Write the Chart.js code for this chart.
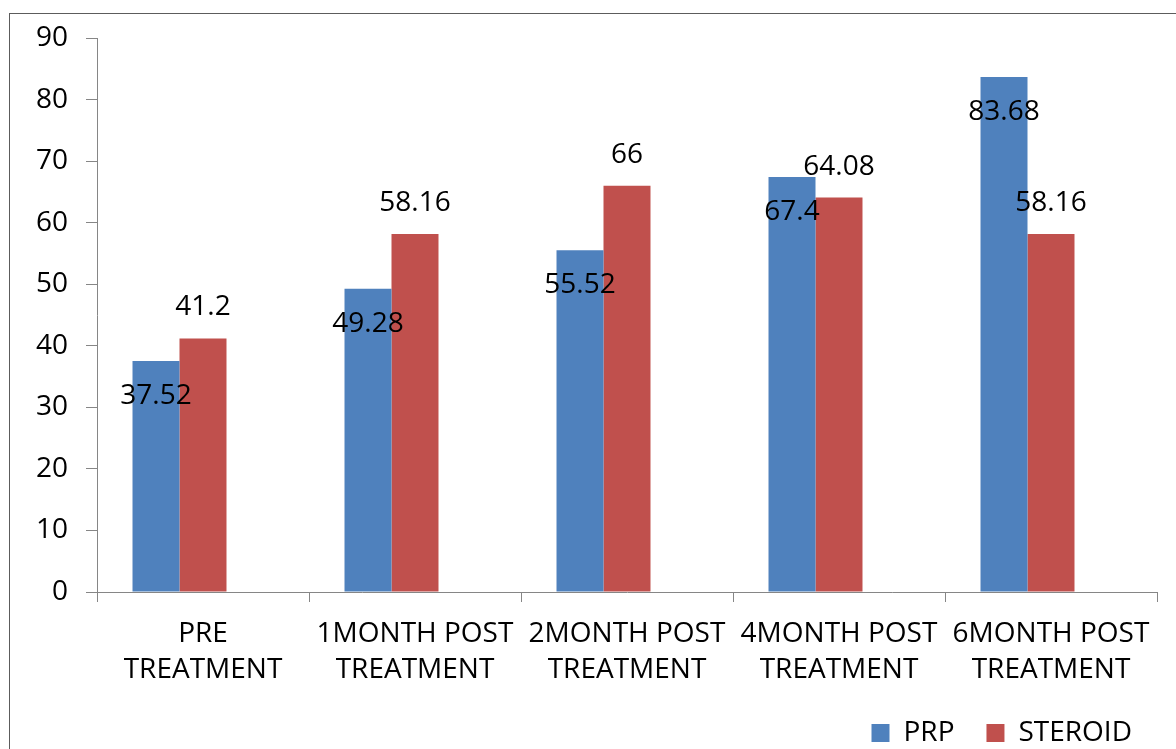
<!DOCTYPE html>
<html>
<head>
<meta charset="utf-8">
<script src="https://cdn.jsdelivr.net/npm/chart.js@4/dist/chart.umd.min.js"></script>
<style>
  html, body { margin: 0; padding: 0; background: #fff; }
  canvas { display: block; }
</style>
</head>
<body>
<canvas id="c" width="1176" height="749"></canvas>
<script>
// Visit labels (two lines each) and mean scores per group
const categories = [
  ['PRE', 'TREATMENT'],
  ['1MONTH POST', 'TREATMENT'],
  ['2MONTH POST', 'TREATMENT'],
  ['4MONTH POST', 'TREATMENT'],
  ['6MONTH POST', 'TREATMENT']
];
const prp = [37.52, 49.28, 55.52, 67.4, 83.68];
const steroid = [41.2, 58.16, 66, 64.08, 58.16];
// Third, empty series slot kept in each group
const spacer = [null, null, null, null, null];
const yTicks = [0, 10, 20, 30, 40, 50, 60, 70, 80, 90];

const FONT = '"Open Sans", "Liberation Sans", sans-serif';
const FONT_SIZE = 28;
const AXIS_GREY = '#868686';
const TEXT = '#000000';

// Value labels: PRP labels sit just inside the bar top, STEROID labels just above it
const labelShift = [35, -31, 0];

const valueLabels = {
  id: 'valueLabels',
  afterDatasetsDraw(chart) {
    const ctx = chart.ctx;
    ctx.save();
    ctx.font = FONT_SIZE + 'px ' + FONT;
    ctx.fillStyle = TEXT;
    ctx.textAlign = 'center';
    ctx.textBaseline = 'middle';
    chart.data.datasets.forEach((ds, di) => {
      const meta = chart.getDatasetMeta(di);
      meta.data.forEach((bar, i) => {
        const v = ds.data[i];
        if (v === null || v === undefined) return;
        ctx.fillText(String(v), bar.x, bar.y + labelShift[di]);
      });
    });
    ctx.restore();
  }
};

// Frame drawn around the figure
const frame = {
  id: 'frame',
  beforeDraw(chart) {
    const ctx = chart.ctx;
    ctx.save();
    ctx.fillStyle = '#ffffff';
    ctx.fillRect(0, 0, chart.width, chart.height);
    ctx.strokeStyle = '#5c5c5c';
    ctx.lineWidth = 1;
    ctx.strokeRect(9.5, 13.5, chart.width + 20, chart.height + 20);
    ctx.restore();
  }
};

// Legend sits in the lower right corner: widen its box upward so the row fits
const legendPlace = {
  id: 'legendPlace',
  afterLayout(chart) {
    const lg = chart.legend;
    const dx = 7, grow = 22;
    lg.left += dx; lg.right += dx;
    lg.top -= grow;
    lg.height = lg.bottom - lg.top;
  }
};

new Chart(document.getElementById('c'), {
  type: 'bar',
  data: {
    labels: categories,
    datasets: [
      { label: 'PRP', data: prp, backgroundColor: '#4F81BD', borderWidth: 0 },
      { label: 'STEROID', data: steroid, backgroundColor: '#C0504D', borderWidth: 0 },
      { label: '', data: spacer, backgroundColor: 'rgba(0,0,0,0)', borderWidth: 0 }
    ]
  },
  options: {
    responsive: false,
    animation: false,
    layout: { padding: { left: 0, right: 19, top: 38, bottom: 0 } },
    datasets: { bar: { categoryPercentage: 0.665, barPercentage: 1.0 } },
    plugins: {
      tooltip: { enabled: false },
      legend: {
        position: 'bottom',
        align: 'end',
        maxHeight: 40,
        labels: {
          font: { family: FONT, size: FONT_SIZE },
          color: TEXT,
          boxWidth: 18,
          boxHeight: 18,
          padding: 32,
          filter: item => item.text !== ''
        }
      }
    },
    scales: {
      x: {
        offset: true,
        grid: { offset: true, drawOnChartArea: false, drawTicks: true, tickLength: 10, color: AXIS_GREY },
        border: { display: true, color: AXIS_GREY, width: 1 },
        ticks: {
          font: { family: FONT, size: FONT_SIZE, lineHeight: 36 / FONT_SIZE },
          color: TEXT,
          padding: 14,
          maxRotation: 0,
          autoSkip: false
        },
        afterFit(scale) { scale.height = 117; }
      },
      y: {
        min: 0,
        max: 90,
        afterBuildTicks(scale) { scale.ticks = yTicks.map(v => ({ value: v })); },
        grid: { drawOnChartArea: false, drawTicks: true, tickLength: 11, color: AXIS_GREY },
        border: { display: true, color: AXIS_GREY, width: 1 },
        ticks: {
          font: { family: FONT, size: FONT_SIZE },
          color: TEXT,
          padding: 18
        },
        afterFit(scale) { scale.width = 97; }
      }
    }
  },
  plugins: [frame, valueLabels, legendPlace]
});
</script>
</body>
</html>
